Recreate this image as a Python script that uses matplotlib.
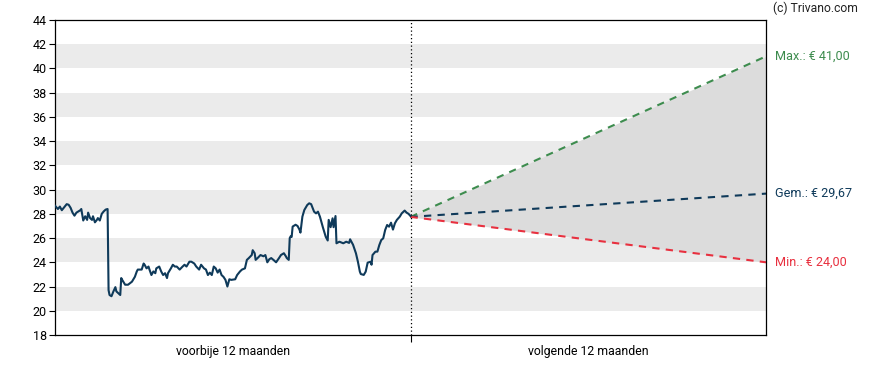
import matplotlib
matplotlib.use("Agg")
import matplotlib.pyplot as plt

plt.rcParams['font.family'] = ['Roboto', 'DejaVu Sans']

# koers afgelopen 12 maanden (dagen t.o.v. vandaag)
days = [-365, -362, -360, -358, -356, -353, -351, -349, -347, -345, -343, -339, -338,
        -336, -334, -332, -331, -329, -327, -326, -324, -322, -321, -319, -317, -315,
        -313, -311, -310, -309, -307, -305, -303, -302, -300, -298, -297, -296, -293,
        -290, -286, -283, -281, -280, -276, -274, -273, -271, -269, -268, -266, -264,
        -262, -261, -258, -256, -254, -252, -250, -249, -246, -244, -242, -240, -237,
        -234, -232, -230, -227, -225, -222, -220, -217, -215, -212, -210, -208, -206,
        -204, -202, -200, -198, -196, -194, -192, -190, -188, -186, -184, -180, -178,
        -175, -173, -170, -168, -166, -163, -162, -160, -159, -157, -154, -151, -149,
        -147, -145, -143, -140, -138, -135, -133, -130, -128, -127, -125, -124, -123,
        -122, -121, -118, -116, -114, -113, -111, -109, -106, -104, -102, -99, -97,
        -95, -93, -90, -87, -85, -84, -82, -80, -79, -77, -76, -73, -69, -66, -63,
        -62, -59, -56, -54, -52, -51, -48, -46, -44, -41, -40, -39, -36, -34, -32,
        -30, -28, -26, -24, -22, -20, -18, -16, -14, -11, -9, -6, -4, -2, 0]
price = [28.67, 28.4, 28.6, 28.3, 28.5, 28.8, 28.75, 28.5, 28.1, 27.85, 28.1, 28.3, 28.4,
         27.45, 27.8, 27.5, 28.1, 27.65, 27.5, 27.8, 27.3, 27.5, 27.65, 27.45, 28.0, 28.2,
         28.35, 28.4, 21.7, 21.3, 21.2, 21.6, 21.95, 21.6, 21.45, 21.3, 22.7, 22.55, 22.15,
         22.15, 22.4, 22.8, 23.25, 23.4, 23.4, 23.9, 23.8, 23.5, 23.65, 23.4, 22.95, 23.25,
         23.1, 23.5, 23.65, 23.25, 22.95, 23.1, 22.7, 23.1, 23.5, 23.8, 23.65, 23.65, 23.4,
         23.65, 23.8, 23.65, 24.05, 24.05, 23.9, 23.65, 23.4, 23.8, 23.5, 23.4, 22.95, 23.15,
         22.95, 23.65, 23.5, 23.15, 23.4, 22.95, 22.8, 22.55, 22.0, 22.6, 22.55, 22.6, 22.95,
         23.25, 23.4, 23.5, 24.2, 24.35, 24.6, 25.0, 24.75, 24.2, 24.35, 24.6, 24.5, 24.6,
         24.0, 24.25, 24.35, 24.15, 24.0, 24.35, 24.6, 24.75, 24.5, 24.35, 24.2, 26.0, 26.15,
         26.1, 26.95, 27.1, 27.0, 26.7, 26.45, 27.77, 28.32, 28.73, 28.87, 28.8, 28.18, 28.04,
         28.18, 27.77, 26.9, 26.1, 25.8, 27.5, 26.9, 27.63, 26.9, 27.82, 25.57, 25.7, 25.57,
         25.7, 25.6, 25.9, 25.45, 24.74, 24.05, 23.23, 23.03, 22.96, 23.23, 23.97, 24.05,
         23.8, 24.6, 24.88, 24.88, 25.43, 25.84, 25.98, 26.67, 27.08, 26.94, 27.27, 26.7,
         27.22, 27.5, 27.77, 28.04, 28.27, 28.1, 28.0, 27.82]

# koersdoelen over 12 maanden
start = 27.75
target_max = 41.00
target_avg = 29.67
target_min = 24.00

fig = plt.figure(figsize=(8.88, 3.70), dpi=100)
ax = fig.add_axes([55/888, 35/370, 711/888, 315/370])

# grijze banden
for lo in range(20, 42, 4):
    ax.axhspan(lo, lo + 2, color='#ebebeb', lw=0, zorder=0)

# bandbreedte koersdoel
ax.fill_between([0, 365], [start, target_min], [start, target_max], color='#dcdcdc', lw=0, zorder=1)

ax.plot(days, price, color='#0f3a5a', lw=1.5, zorder=3)
ax.plot([0, 365], [start, target_max], color='#3d8c4e', lw=1.5, ls=(0, (3.5, 3)), zorder=2)
ax.plot([0, 365], [start, target_avg], color='#0f3a5a', lw=1.5, ls=(0, (3.5, 3)), zorder=2)
ax.plot([0, 365], [start, target_min], color='#e8303f', lw=1.5, ls=(0, (3.5, 3)), zorder=2)
ax.axvline(0, color='black', lw=0.9, ls=(0, (1, 2)), zorder=4)

ax.set_xlim(-365, 365)
ax.set_ylim(18, 44)
ax.set_yticks(range(18, 45, 2))
ax.set_xticks([0])
ax.set_xticklabels([''])
ax.set_xticks([-182.5, 182.5], minor=True)
ax.set_xticklabels(['voorbije 12 maanden', 'volgende 12 maanden'], minor=True)
ax.tick_params(axis='x', which='minor', length=0, pad=7, labelsize=8.8)
ax.tick_params(axis='x', which='major', length=5, width=0.8)
ax.tick_params(axis='y', length=4, width=0.8, labelsize=9, pad=2)
for s in ax.spines.values():
    s.set_linewidth(0.9)

# labels rechts
ax.text(1.012, target_max, 'Max.: € 41,00', color='#3d8c4e', fontsize=9.1, va='center',
        transform=ax.get_yaxis_transform())
ax.text(1.012, target_avg, 'Gem.: € 29,67', color='#0f3a5a', fontsize=9.1, va='center',
        transform=ax.get_yaxis_transform())
ax.text(1.012, target_min, 'Min.: € 24,00', color='#e8303f', fontsize=9.1, va='center',
        transform=ax.get_yaxis_transform())
fig.text(773/888, 1 - 8/370, '(c) Trivano.com', fontsize=8.7, va='center', color='#222222')

fig.savefig('out.png', dpi=100)
